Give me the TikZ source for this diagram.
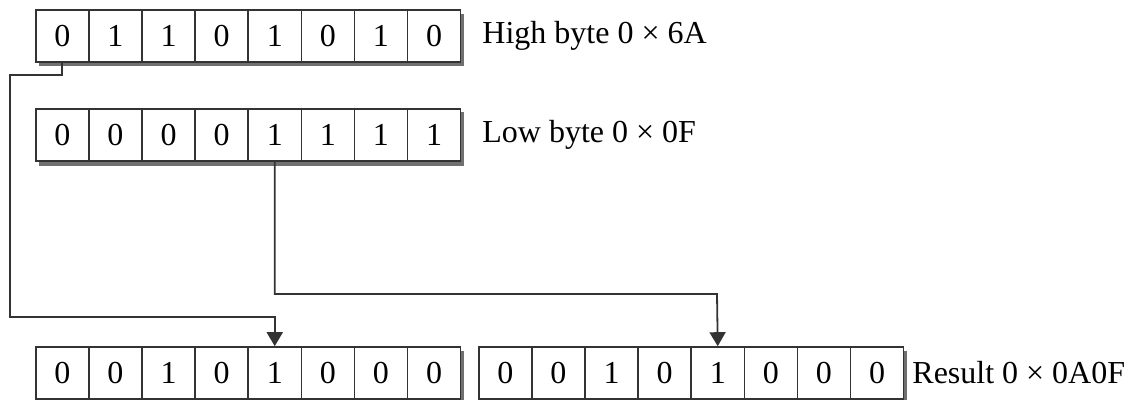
\documentclass[tikz,border=0pt]{standalone}
\usepackage{fontspec}
\setmainfont{Liberation Serif}
\usetikzlibrary{arrows.meta}

\definecolor{cellline}{HTML}{333333}
\definecolor{dropshade}{HTML}{707070}

\begin{document}
\begin{tikzpicture}[
  x=0.5pt, y=-0.5pt,
  line join=miter,
  every node/.style={font=\fontsize{16}{19}\selectfont, inner sep=0pt},
  cell/.style={draw=cellline, fill=white, line width=0.8pt, minimum width=26.55pt, minimum height=26pt, anchor=west},
  byteshade/.style={fill=dropshade},
  link/.style={draw=cellline, line width=0.9pt, -{Triangle[width=8pt,length=7pt]}},
  bytelabel/.style={anchor=west},
]
\useasboundingbox (0,0) rectangle (1141,400);
% shadows behind each byte
\fill[byteshade] (39,14) rectangle (464,66);
\fill[byteshade] (39,112) rectangle (464,166);
\fill[byteshade] (39,351) rectangle (464,402);
\fill[byteshade] (482,351) rectangle (907,402);
% bytes
\foreach \bit [count=\i from 0] in {0,1,1,0,1,0,1,0}
  \node[cell] (hi\i) at ({35+53.1*\i},36) {\bit};
\foreach \bit [count=\i from 0] in {0,0,0,0,1,1,1,1}
  \node[cell] (lo\i) at ({35+53.1*\i},135) {\bit};
\foreach \bit [count=\i from 0] in {0,0,1,0,1,0,0,0}
  \node[cell] (ra\i) at ({35+53.1*\i},373) {\bit};
\foreach \bit [count=\i from 0] in {0,0,1,0,1,0,0,0}
  \node[cell] (rb\i) at ({478+53.1*\i},373) {\bit};
% labels
\node[bytelabel] (hilabel) at (482,36) {High byte 0 × 6A};
\node[bytelabel] (lolabel) at (482,135) {Low byte 0 × 0F};
\node[bytelabel] (reslabel) at (912,373) {Result 0 × 0A0F};
% connectors
\coordinate (jogA) at (10,75);
\coordinate (jogB) at (10,317);
\coordinate (jogC) at (717,294);
\draw[link] (hi0.south) |- (jogA) -- (jogB) -| (ra4.north);
\draw[link] (lo4.south) |- (jogC) -- (rb4.north);
\end{tikzpicture}
\end{document}
